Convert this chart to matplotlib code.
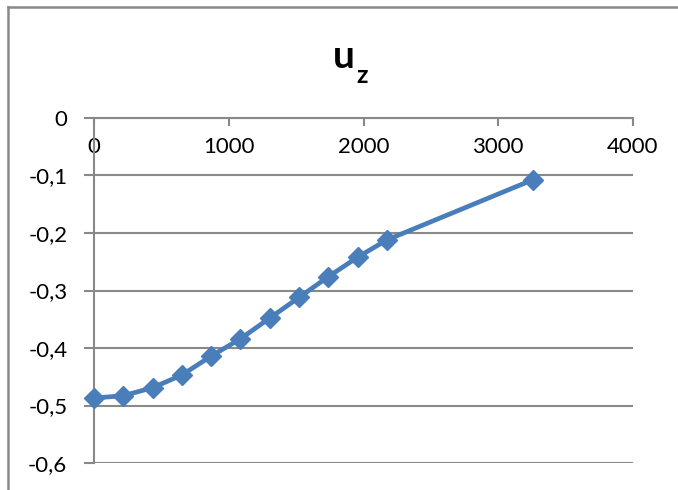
import matplotlib
matplotlib.use("Agg")
import matplotlib.pyplot as plt
from matplotlib.lines import Line2D
from matplotlib.ticker import FuncFormatter

# Displacement u_z along the coordinate
x_vals = [0, 217, 435, 652, 870, 1087, 1304, 1522, 1739, 1957, 2174, 3261]
uz_vals = [-0.487, -0.483, -0.469, -0.447, -0.414, -0.384, -0.348,
           -0.312, -0.276, -0.242, -0.212, -0.107]
x_ticks = [0, 1000, 2000, 3000, 4000]
y_ticks = [0, -0.1, -0.2, -0.3, -0.4, -0.5, -0.6]

plt.rcParams['font.family'] = ['Lato', 'DejaVu Sans']

W, H = 678, 490
fig = plt.figure(figsize=(W / 100, H / 100), dpi=100)
fig.patch.set_facecolor('white')

grey = '#898989'

# chart area border (left and top edges)
fig.add_artist(Line2D([8 / W, 8 / W], [0, 1 - 7 / H], transform=fig.transFigure,
                      color=grey, lw=1.8))
fig.add_artist(Line2D([8 / W, 1], [1 - 7 / H, 1 - 7 / H], transform=fig.transFigure,
                      color=grey, lw=1.8))

ax = fig.add_axes([94 / W, 1 - 463 / H, (633 - 94) / W, (463 - 118) / H])
ax.set_xlim(0, 4000)
ax.set_ylim(-0.6, 0)

ax.plot(x_vals, uz_vals, color='#4A7EBB', lw=3.4, marker='D', markersize=10.5,
        markerfacecolor='#4A7EBB', markeredgecolor='#4A7EBB', mew=1,
        clip_on=False, zorder=5)

ax.set_xticks(x_ticks)
ax.set_yticks(y_ticks)
ax.yaxis.set_major_formatter(FuncFormatter(
    lambda v, p: '0' if abs(v) < 1e-9 else f'{v:.1f}'.replace('.', ',')))
ax.xaxis.set_major_formatter(FuncFormatter(lambda v, p: f'{int(v)}'))

for s in ['top', 'right']:
    ax.spines[s].set_visible(False)
ax.spines['bottom'].set_position(('data', 0))
for s in ['left', 'bottom']:
    ax.spines[s].set_color(grey)
    ax.spines[s].set_linewidth(1.5)

ax.grid(axis='y', color=grey, lw=1.5)
ax.set_axisbelow(True)
ax.tick_params(axis='y', direction='out', length=7.2, width=1.5, color=grey,
               pad=12, labelsize=16, labelcolor='black')
ax.tick_params(axis='x', direction='out', length=5.5, width=1.5, color=grey,
               pad=8, labelsize=16, labelcolor='black')

# title u_z
fig.text(333 / W, 1 - 68 / H, 'u', fontsize=28, fontweight='bold',
         ha='left', va='baseline')
fig.text(356 / W, 1 - 83 / H, 'z', fontsize=18, fontweight='bold',
         ha='left', va='baseline')

fig.savefig('out.png', dpi=100, facecolor='white')
